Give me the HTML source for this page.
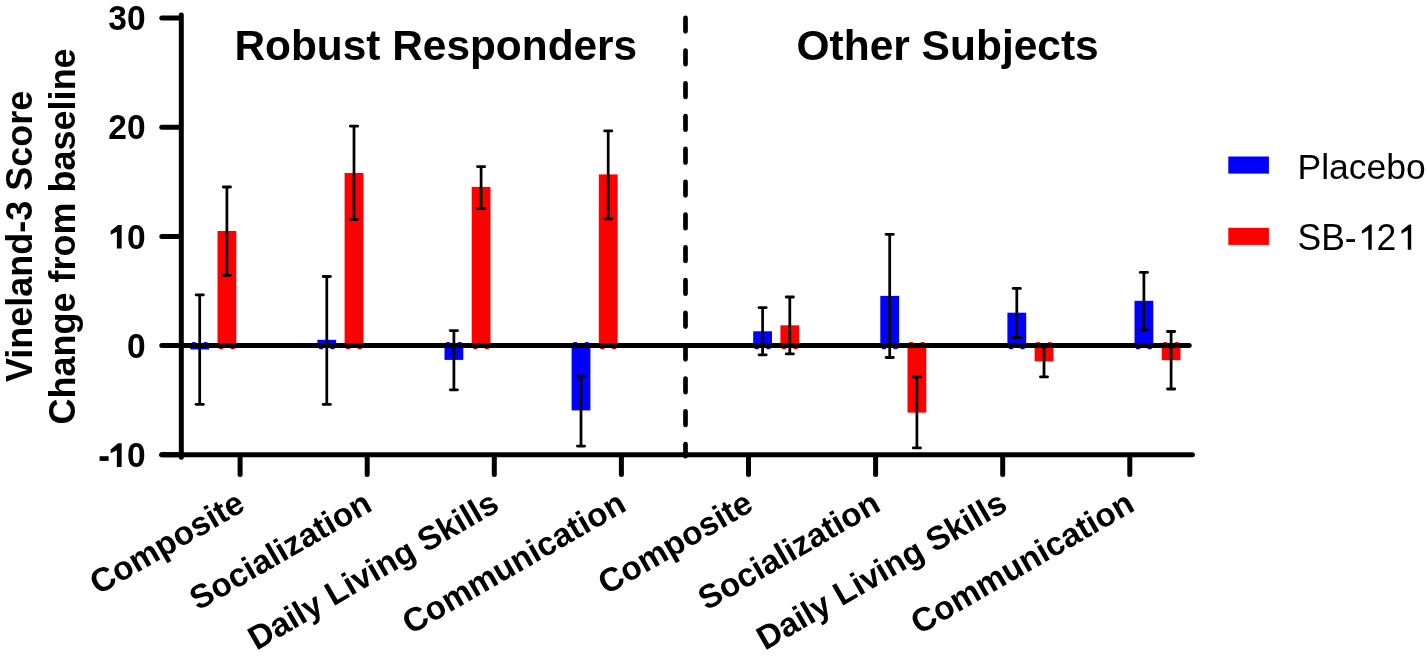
<!DOCTYPE html>
<html><head><meta charset="utf-8"><title>Vineland-3 chart</title><style>
html,body{margin:0;padding:0;background:#fff;overflow:hidden;}
svg{display:block;will-change:transform;}
text{font-family:"Liberation Sans", sans-serif;fill:#000;}
</style></head><body>
<svg width="1427" height="662" viewBox="0 0 1427 662">
<rect width="1427" height="662" fill="#fff"/>
<rect x="190.3" y="345.6" width="18.8" height="3.9" fill="#0000ff"/>
<rect x="217.5" y="231.0" width="18.8" height="114.6" fill="#ff0000"/>
<rect x="317.4" y="339.8" width="18.8" height="5.8" fill="#0000ff"/>
<rect x="344.6" y="173.0" width="18.8" height="172.6" fill="#ff0000"/>
<rect x="444.5" y="345.6" width="18.8" height="14.3" fill="#0000ff"/>
<rect x="471.7" y="186.9" width="18.8" height="158.7" fill="#ff0000"/>
<rect x="571.6" y="345.6" width="18.8" height="64.8" fill="#0000ff"/>
<rect x="598.8" y="174.4" width="18.8" height="171.2" fill="#ff0000"/>
<rect x="753.2" y="331.3" width="18.8" height="14.3" fill="#0000ff"/>
<rect x="780.4" y="325.3" width="18.8" height="20.3" fill="#ff0000"/>
<rect x="880.3" y="295.9" width="18.8" height="49.7" fill="#0000ff"/>
<rect x="907.5" y="345.6" width="18.8" height="67.0" fill="#ff0000"/>
<rect x="1007.4" y="312.7" width="18.8" height="32.9" fill="#0000ff"/>
<rect x="1034.6" y="345.6" width="18.8" height="15.7" fill="#ff0000"/>
<rect x="1134.5" y="300.8" width="18.8" height="44.8" fill="#0000ff"/>
<rect x="1161.7" y="345.6" width="18.8" height="14.6" fill="#ff0000"/>
<ellipse cx="193.9" cy="343.3" rx="2.4" ry="1.35" fill="#0000f0"/>
<ellipse cx="205.5" cy="343.3" rx="2.4" ry="1.35" fill="#0000f0"/>
<ellipse cx="221.1" cy="347.9" rx="2.4" ry="1.35" fill="#d80000"/>
<ellipse cx="232.7" cy="347.9" rx="2.4" ry="1.35" fill="#d80000"/>
<ellipse cx="321.0" cy="347.9" rx="2.4" ry="1.35" fill="#0000f0"/>
<ellipse cx="332.6" cy="347.9" rx="2.4" ry="1.35" fill="#0000f0"/>
<ellipse cx="348.2" cy="347.9" rx="2.4" ry="1.35" fill="#d80000"/>
<ellipse cx="359.8" cy="347.9" rx="2.4" ry="1.35" fill="#d80000"/>
<ellipse cx="448.1" cy="343.3" rx="2.4" ry="1.35" fill="#0000f0"/>
<ellipse cx="459.7" cy="343.3" rx="2.4" ry="1.35" fill="#0000f0"/>
<ellipse cx="475.3" cy="347.9" rx="2.4" ry="1.35" fill="#d80000"/>
<ellipse cx="486.9" cy="347.9" rx="2.4" ry="1.35" fill="#d80000"/>
<ellipse cx="575.2" cy="343.3" rx="2.4" ry="1.35" fill="#0000f0"/>
<ellipse cx="586.8" cy="343.3" rx="2.4" ry="1.35" fill="#0000f0"/>
<ellipse cx="602.4" cy="347.9" rx="2.4" ry="1.35" fill="#d80000"/>
<ellipse cx="614.0" cy="347.9" rx="2.4" ry="1.35" fill="#d80000"/>
<ellipse cx="756.8" cy="347.9" rx="2.4" ry="1.35" fill="#0000f0"/>
<ellipse cx="768.4" cy="347.9" rx="2.4" ry="1.35" fill="#0000f0"/>
<ellipse cx="784.0" cy="347.9" rx="2.4" ry="1.35" fill="#d80000"/>
<ellipse cx="795.6" cy="347.9" rx="2.4" ry="1.35" fill="#d80000"/>
<ellipse cx="883.9" cy="347.9" rx="2.4" ry="1.35" fill="#0000f0"/>
<ellipse cx="895.5" cy="347.9" rx="2.4" ry="1.35" fill="#0000f0"/>
<ellipse cx="911.1" cy="343.3" rx="2.4" ry="1.35" fill="#d80000"/>
<ellipse cx="922.7" cy="343.3" rx="2.4" ry="1.35" fill="#d80000"/>
<ellipse cx="1011.0" cy="347.9" rx="2.4" ry="1.35" fill="#0000f0"/>
<ellipse cx="1022.6" cy="347.9" rx="2.4" ry="1.35" fill="#0000f0"/>
<ellipse cx="1038.2" cy="343.3" rx="2.4" ry="1.35" fill="#d80000"/>
<ellipse cx="1049.8" cy="343.3" rx="2.4" ry="1.35" fill="#d80000"/>
<ellipse cx="1138.1" cy="347.9" rx="2.4" ry="1.35" fill="#0000f0"/>
<ellipse cx="1149.7" cy="347.9" rx="2.4" ry="1.35" fill="#0000f0"/>
<ellipse cx="1165.3" cy="343.3" rx="2.4" ry="1.35" fill="#d80000"/>
<ellipse cx="1176.9" cy="343.3" rx="2.4" ry="1.35" fill="#d80000"/>
<line x1="181.3" y1="345.6" x2="1189.2" y2="345.6" stroke="#000" stroke-width="5" stroke-linecap="round"/>
<line x1="199.7" y1="294.9" x2="199.7" y2="404.3" stroke="#000" stroke-width="2.75"/><line x1="196.1" y1="294.9" x2="203.3" y2="294.9" stroke="#000" stroke-width="2.8" stroke-linecap="round"/><line x1="196.1" y1="404.3" x2="203.3" y2="404.3" stroke="#000" stroke-width="2.8" stroke-linecap="round"/>
<line x1="226.9" y1="187.0" x2="226.9" y2="275.3" stroke="#000" stroke-width="2.75"/><line x1="223.3" y1="187.0" x2="230.5" y2="187.0" stroke="#000" stroke-width="2.8" stroke-linecap="round"/><line x1="223.3" y1="275.3" x2="230.5" y2="275.3" stroke="#000" stroke-width="2.8" stroke-linecap="round"/>
<line x1="326.8" y1="276.5" x2="326.8" y2="404.4" stroke="#000" stroke-width="2.75"/><line x1="323.2" y1="276.5" x2="330.4" y2="276.5" stroke="#000" stroke-width="2.8" stroke-linecap="round"/><line x1="323.2" y1="404.4" x2="330.4" y2="404.4" stroke="#000" stroke-width="2.8" stroke-linecap="round"/>
<line x1="354.0" y1="126.2" x2="354.0" y2="219.6" stroke="#000" stroke-width="2.75"/><line x1="350.4" y1="126.2" x2="357.6" y2="126.2" stroke="#000" stroke-width="2.8" stroke-linecap="round"/><line x1="350.4" y1="219.6" x2="357.6" y2="219.6" stroke="#000" stroke-width="2.8" stroke-linecap="round"/>
<line x1="453.9" y1="330.6" x2="453.9" y2="389.8" stroke="#000" stroke-width="2.75"/><line x1="450.3" y1="330.6" x2="457.5" y2="330.6" stroke="#000" stroke-width="2.8" stroke-linecap="round"/><line x1="450.3" y1="389.8" x2="457.5" y2="389.8" stroke="#000" stroke-width="2.8" stroke-linecap="round"/>
<line x1="481.1" y1="166.6" x2="481.1" y2="208.5" stroke="#000" stroke-width="2.75"/><line x1="477.5" y1="166.6" x2="484.7" y2="166.6" stroke="#000" stroke-width="2.8" stroke-linecap="round"/><line x1="477.5" y1="208.5" x2="484.7" y2="208.5" stroke="#000" stroke-width="2.8" stroke-linecap="round"/>
<line x1="581.0" y1="376.1" x2="581.0" y2="446.1" stroke="#000" stroke-width="2.75"/><line x1="577.4" y1="376.1" x2="584.6" y2="376.1" stroke="#000" stroke-width="2.8" stroke-linecap="round"/><line x1="577.4" y1="446.1" x2="584.6" y2="446.1" stroke="#000" stroke-width="2.8" stroke-linecap="round"/>
<line x1="608.2" y1="130.9" x2="608.2" y2="218.8" stroke="#000" stroke-width="2.75"/><line x1="604.6" y1="130.9" x2="611.8" y2="130.9" stroke="#000" stroke-width="2.8" stroke-linecap="round"/><line x1="604.6" y1="218.8" x2="611.8" y2="218.8" stroke="#000" stroke-width="2.8" stroke-linecap="round"/>
<line x1="762.6" y1="307.6" x2="762.6" y2="354.8" stroke="#000" stroke-width="2.75"/><line x1="759.0" y1="307.6" x2="766.2" y2="307.6" stroke="#000" stroke-width="2.8" stroke-linecap="round"/><line x1="759.0" y1="354.8" x2="766.2" y2="354.8" stroke="#000" stroke-width="2.8" stroke-linecap="round"/>
<line x1="789.8" y1="297.0" x2="789.8" y2="353.9" stroke="#000" stroke-width="2.75"/><line x1="786.2" y1="297.0" x2="793.4" y2="297.0" stroke="#000" stroke-width="2.8" stroke-linecap="round"/><line x1="786.2" y1="353.9" x2="793.4" y2="353.9" stroke="#000" stroke-width="2.8" stroke-linecap="round"/>
<line x1="889.7" y1="234.3" x2="889.7" y2="357.5" stroke="#000" stroke-width="2.75"/><line x1="886.1" y1="234.3" x2="893.3" y2="234.3" stroke="#000" stroke-width="2.8" stroke-linecap="round"/><line x1="886.1" y1="357.5" x2="893.3" y2="357.5" stroke="#000" stroke-width="2.8" stroke-linecap="round"/>
<line x1="916.9" y1="376.9" x2="916.9" y2="447.9" stroke="#000" stroke-width="2.75"/><line x1="913.3" y1="376.9" x2="920.5" y2="376.9" stroke="#000" stroke-width="2.8" stroke-linecap="round"/><line x1="913.3" y1="447.9" x2="920.5" y2="447.9" stroke="#000" stroke-width="2.8" stroke-linecap="round"/>
<line x1="1016.8" y1="288.4" x2="1016.8" y2="337.5" stroke="#000" stroke-width="2.75"/><line x1="1013.2" y1="288.4" x2="1020.4" y2="288.4" stroke="#000" stroke-width="2.8" stroke-linecap="round"/><line x1="1013.2" y1="337.5" x2="1020.4" y2="337.5" stroke="#000" stroke-width="2.8" stroke-linecap="round"/>
<line x1="1044.0" y1="345.8" x2="1044.0" y2="376.8" stroke="#000" stroke-width="2.75"/><line x1="1040.4" y1="345.8" x2="1047.6" y2="345.8" stroke="#000" stroke-width="2.8" stroke-linecap="round"/><line x1="1040.4" y1="376.8" x2="1047.6" y2="376.8" stroke="#000" stroke-width="2.8" stroke-linecap="round"/>
<line x1="1143.9" y1="272.3" x2="1143.9" y2="329.8" stroke="#000" stroke-width="2.75"/><line x1="1140.3" y1="272.3" x2="1147.5" y2="272.3" stroke="#000" stroke-width="2.8" stroke-linecap="round"/><line x1="1140.3" y1="329.8" x2="1147.5" y2="329.8" stroke="#000" stroke-width="2.8" stroke-linecap="round"/>
<line x1="1171.1" y1="331.5" x2="1171.1" y2="389.0" stroke="#000" stroke-width="2.75"/><line x1="1167.5" y1="331.5" x2="1174.7" y2="331.5" stroke="#000" stroke-width="2.8" stroke-linecap="round"/><line x1="1167.5" y1="389.0" x2="1174.7" y2="389.0" stroke="#000" stroke-width="2.8" stroke-linecap="round"/>
<g stroke="#000" stroke-width="5" stroke-linecap="round" fill="none">
<line x1="181.3" y1="15" x2="181.3" y2="457.2"/>
<line x1="161.8" y1="454.8" x2="1192.4" y2="454.8"/>
<line x1="161.8" y1="18.0" x2="179.5" y2="18.0"/>
<line x1="161.8" y1="127.2" x2="179.5" y2="127.2"/>
<line x1="161.8" y1="236.4" x2="179.5" y2="236.4"/>
<line x1="161.8" y1="345.6" x2="179.5" y2="345.6"/>
<line x1="161.8" y1="454.8" x2="179.5" y2="454.8"/>
<line x1="240.1" y1="456" x2="240.1" y2="474.4"/>
<line x1="367.2" y1="456" x2="367.2" y2="474.4"/>
<line x1="494.3" y1="456" x2="494.3" y2="474.4"/>
<line x1="621.4" y1="456" x2="621.4" y2="474.4"/>
<line x1="748.5" y1="456" x2="748.5" y2="474.4"/>
<line x1="875.6" y1="456" x2="875.6" y2="474.4"/>
<line x1="1002.7" y1="456" x2="1002.7" y2="474.4"/>
<line x1="1129.8" y1="456" x2="1129.8" y2="474.4"/>
</g>
<line x1="685.5" y1="17.75" x2="685.5" y2="456.2" stroke="#000" stroke-width="4.7" stroke-linecap="round" stroke-dasharray="13.6 19.2"/>
<text transform="translate(145.60,30.20) scale(1,1.04)" font-size="33.5" font-weight="bold" text-anchor="end">30</text>
<text transform="translate(145.60,139.40) scale(1,1.04)" font-size="33.5" font-weight="bold" text-anchor="end">20</text>
<text transform="translate(145.60,248.60) scale(1,1.04)" font-size="33.5" font-weight="bold" text-anchor="end">0</text>
<polygon transform="translate(108.35,248.60)" points="13.29,-23.69 13.29,0.00 8.53,0.00 8.53,-16.76 2.34,-13.85 2.34,-17.61 9.75,-23.69"/>
<text transform="translate(145.60,357.80) scale(1,1.04)" font-size="33.5" font-weight="bold" text-anchor="end">0</text>
<text transform="translate(145.60,467.00) scale(1,1.04)" font-size="33.5" font-weight="bold" text-anchor="end">0</text>
<polygon transform="translate(108.35,467.00)" points="13.29,-23.69 13.29,0.00 8.53,0.00 8.53,-16.76 2.34,-13.85 2.34,-17.61 9.75,-23.69"/>
<rect x="99.60" y="456.21" width="9.01" height="4.69"/>
<text transform="translate(435.80,60.30)" font-size="42.4" font-weight="bold" text-anchor="middle">Robust Responders</text>
<text transform="translate(947.60,60.30)" font-size="42.5" font-weight="bold" text-anchor="middle">Other Subjects</text>
<text transform="translate(31.50,236.40) rotate(-90)" font-size="36" font-weight="bold" text-anchor="middle">Vineland-3 Score</text>
<text transform="translate(75.00,236.40) rotate(-90)" font-size="36" font-weight="bold" text-anchor="middle">Change from baseline</text>
<text transform="translate(246.70,509.60) rotate(-30)" font-size="33.2" font-weight="bold" text-anchor="end">Composite</text>
<text transform="translate(373.80,509.60) rotate(-30)" font-size="33.2" font-weight="bold" text-anchor="end">Socialization</text>
<text transform="translate(500.90,509.60) rotate(-30)" font-size="33.2" font-weight="bold" text-anchor="end">Daily Living Skills</text>
<text transform="translate(628.00,509.60) rotate(-30)" font-size="33.2" font-weight="bold" text-anchor="end">Communication</text>
<text transform="translate(755.10,509.60) rotate(-30)" font-size="33.2" font-weight="bold" text-anchor="end">Composite</text>
<text transform="translate(882.20,509.60) rotate(-30)" font-size="33.2" font-weight="bold" text-anchor="end">Socialization</text>
<text transform="translate(1009.30,509.60) rotate(-30)" font-size="33.2" font-weight="bold" text-anchor="end">Daily Living Skills</text>
<text transform="translate(1136.40,509.60) rotate(-30)" font-size="33.2" font-weight="bold" text-anchor="end">Communication</text>
<rect x="1228.3" y="156.5" width="40.6" height="17.1" fill="#0000ff"/>
<rect x="1228.3" y="227.8" width="40.6" height="17.1" fill="#ff0000"/>
<text transform="translate(1297.50,178.70)" font-size="35.5">Placebo</text>
<text transform="translate(1297.50,249.80) scale(1,1.04)" font-size="35.5">SB-</text>
<polygon transform="translate(1356.68,249.80)" points="15.02,-25.42 15.02,0.00 11.61,0.00 11.61,-19.45 5.22,-16.05 5.22,-18.99 13.01,-25.42"/>
<text transform="translate(1376.42,249.80) scale(1,1.04)" font-size="35.5">2</text>
<polygon transform="translate(1396.17,249.80)" points="15.02,-25.42 15.02,0.00 11.61,0.00 11.61,-19.45 5.22,-16.05 5.22,-18.99 13.01,-25.42"/>
</svg></body></html>
